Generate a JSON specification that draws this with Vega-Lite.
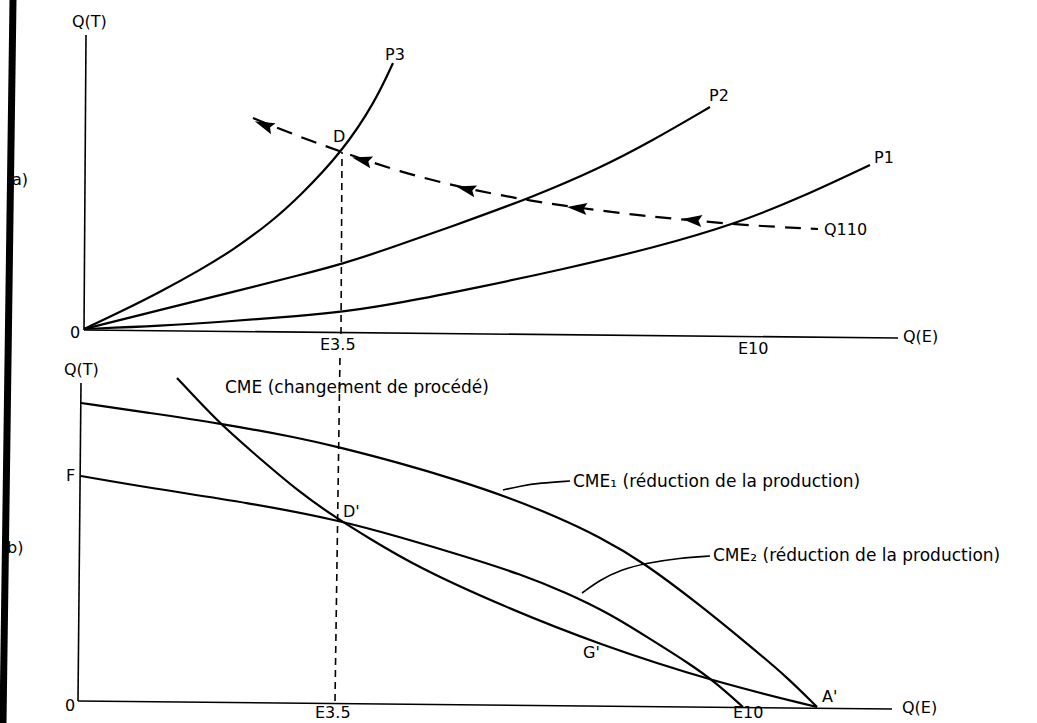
{
  "$schema": "https://vega.github.io/schema/vega-lite/v6.json",
  "width": 1037,
  "height": 723,
  "autosize": "none",
  "padding": 0,
  "background": "white",
  "config": {
    "view": {"stroke": null},
    "text": {"font": "DejaVu Sans", "fontSize": 16, "color": "black", "align": "left", "baseline": "middle"},
    "line": {"color": "black"}
  },
  "datasets": {
    "top_axes": [
      {"series": "yaxis", "x": 4, "y": 0}, {"series": "yaxis", "x": 6, "y": 295},
      {"series": "xaxis", "x": 4, "y": 0}, {"series": "xaxis", "x": 818, "y": -8}
    ],
    "top_curves": [
      {"series": "P3", "x": 4, "y": 1}, {"series": "P3", "x": 40, "y": 18}, {"series": "P3", "x": 80, "y": 38},
      {"series": "P3", "x": 120, "y": 60}, {"series": "P3", "x": 153, "y": 80}, {"series": "P3", "x": 190, "y": 107},
      {"series": "P3", "x": 220, "y": 134}, {"series": "P3", "x": 262, "y": 178}, {"series": "P3", "x": 295, "y": 228},
      {"series": "P3", "x": 313, "y": 267},
      {"series": "P2", "x": 4, "y": 1}, {"series": "P2", "x": 80, "y": 20}, {"series": "P2", "x": 153, "y": 38},
      {"series": "P2", "x": 220, "y": 55}, {"series": "P2", "x": 262, "y": 66}, {"series": "P2", "x": 308, "y": 81},
      {"series": "P2", "x": 370, "y": 103}, {"series": "P2", "x": 453, "y": 133}, {"series": "P2", "x": 520, "y": 162},
      {"series": "P2", "x": 570, "y": 188}, {"series": "P2", "x": 630, "y": 223},
      {"series": "P1", "x": 4, "y": 1}, {"series": "P1", "x": 80, "y": 4}, {"series": "P1", "x": 153, "y": 9},
      {"series": "P1", "x": 220, "y": 14}, {"series": "P1", "x": 262, "y": 18}, {"series": "P1", "x": 320, "y": 27},
      {"series": "P1", "x": 400, "y": 43}, {"series": "P1", "x": 480, "y": 60}, {"series": "P1", "x": 577, "y": 83},
      {"series": "P1", "x": 655, "y": 106}, {"series": "P1", "x": 720, "y": 132}, {"series": "P1", "x": 790, "y": 165}
    ],
    "q110": [
      {"x": 173, "y": 212}, {"x": 220, "y": 193}, {"x": 262, "y": 178}, {"x": 320, "y": 158},
      {"x": 383, "y": 142}, {"x": 440, "y": 131}, {"x": 492, "y": 123}, {"x": 563, "y": 114},
      {"x": 610, "y": 110}, {"x": 660, "y": 105}, {"x": 738, "y": 101}
    ],
    "arrows": [
      {"arrow": "a1", "x": 184, "y": 205},
      {"arrow": "a2", "x": 282, "y": 170},
      {"arrow": "a3", "x": 386, "y": 141},
      {"arrow": "a4", "x": 497, "y": 122},
      {"arrow": "a5", "x": 612, "y": 110}
    ],
    "top_labels": [
      {"label": "Q(T)", "x": -8, "y": 308},
      {"label": "a)", "x": -68, "y": 150},
      {"label": "0", "x": -10, "y": -3},
      {"label": "D", "x": 253, "y": 193},
      {"label": "P3", "x": 305, "y": 275},
      {"label": "P2", "x": 629, "y": 234},
      {"label": "P1", "x": 794, "y": 172},
      {"label": "Q110", "x": 744, "y": 100},
      {"label": "E3.5", "x": 240, "y": -15},
      {"label": "E10", "x": 658, "y": -19},
      {"label": "Q(E)", "x": 823, "y": -7}
    ],
    "bottom_axes": [
      {"series": "yaxis", "x": -2, "y": 0}, {"series": "yaxis", "x": 1, "y": 318},
      {"series": "xaxis", "x": -2, "y": 0}, {"series": "xaxis", "x": 812, "y": -8}
    ],
    "bottom_curves": [
      {"series": "CME1", "x": 1, "y": 298}, {"series": "CME1", "x": 70, "y": 288}, {"series": "CME1", "x": 138, "y": 278},
      {"series": "CME1", "x": 220, "y": 263}, {"series": "CME1", "x": 258, "y": 254}, {"series": "CME1", "x": 320, "y": 238},
      {"series": "CME1", "x": 377, "y": 221}, {"series": "CME1", "x": 430, "y": 203}, {"series": "CME1", "x": 475, "y": 185},
      {"series": "CME1", "x": 520, "y": 164}, {"series": "CME1", "x": 563, "y": 139}, {"series": "CME1", "x": 620, "y": 96},
      {"series": "CME1", "x": 670, "y": 55}, {"series": "CME1", "x": 707, "y": 24}, {"series": "CME1", "x": 737, "y": -6},
      {"series": "CME", "x": 97, "y": 323}, {"series": "CME", "x": 138, "y": 279}, {"series": "CME", "x": 170, "y": 251},
      {"series": "CME", "x": 220, "y": 208}, {"series": "CME", "x": 258, "y": 182}, {"series": "CME", "x": 287, "y": 164},
      {"series": "CME", "x": 337, "y": 134}, {"series": "CME", "x": 420, "y": 96}, {"series": "CME", "x": 520, "y": 56},
      {"series": "CME", "x": 635, "y": 19}, {"series": "CME", "x": 737, "y": -6},
      {"series": "CME2", "x": 1, "y": 225}, {"series": "CME2", "x": 70, "y": 213}, {"series": "CME2", "x": 170, "y": 198},
      {"series": "CME2", "x": 258, "y": 181}, {"series": "CME2", "x": 320, "y": 164}, {"series": "CME2", "x": 387, "y": 144},
      {"series": "CME2", "x": 440, "y": 127}, {"series": "CME2", "x": 487, "y": 108}, {"series": "CME2", "x": 530, "y": 87},
      {"series": "CME2", "x": 567, "y": 64}, {"series": "CME2", "x": 610, "y": 37}, {"series": "CME2", "x": 635, "y": 19},
      {"series": "CME2", "x": 663, "y": -6}
    ],
    "leaders": [
      {"series": "L1", "x": 423, "y": 211}, {"series": "L1", "x": 440, "y": 215}, {"series": "L1", "x": 460, "y": 218}, {"series": "L1", "x": 490, "y": 220},
      {"series": "L2", "x": 502, "y": 108}, {"series": "L2", "x": 520, "y": 121}, {"series": "L2", "x": 540, "y": 131},
      {"series": "L2", "x": 567, "y": 138}, {"series": "L2", "x": 600, "y": 143}, {"series": "L2", "x": 630, "y": 145}
    ],
    "guide": [
      {"series": "s1", "x": 262, "y": 549}, {"series": "s1", "x": 261, "y": 367},
      {"series": "s2", "x": 260, "y": 346}, {"series": "s2", "x": 255, "y": 0}
    ],
    "edge": [
      {"x": -77, "y": -22}, {"x": -67, "y": 701}
    ],
    "bottom_labels": [
      {"label": "Q(T)", "x": -16, "y": 331},
      {"label": "F", "x": -14, "y": 225},
      {"label": "b)", "x": -73, "y": 153},
      {"label": "0", "x": -15, "y": -5},
      {"label": "D'", "x": 263, "y": 189},
      {"label": "G'", "x": 503, "y": 48},
      {"label": "A'", "x": 742, "y": 4},
      {"label": "E3.5", "x": 235, "y": -12},
      {"label": "E10", "x": 653, "y": -12},
      {"label": "Q(E)", "x": 822, "y": -7}
    ],
    "bottom_long_labels": [
      {"label": "CME (changement de procédé)", "x": 145, "y": 313},
      {"label": "CME₁ (réduction de la production)", "x": 493, "y": 219},
      {"label": "CME₂ (réduction de la production)", "x": 633, "y": 145}
    ]
  },
  "layer": [
    {
      "encoding": {
        "x": {"field": "x", "type": "quantitative", "scale": {"domain": [-80, 957], "nice": false, "zero": false}, "axis": null},
        "y": {"field": "y", "type": "quantitative", "scale": {"domain": [-393, 330], "nice": false, "zero": false}, "axis": null}
      },
      "layer": [
        {"data": {"name": "top_axes"}, "mark": {"type": "line", "strokeWidth": 1.6}, "encoding": {"detail": {"field": "series"}}},
        {"data": {"name": "top_curves"}, "mark": {"type": "line", "strokeWidth": 2.2, "interpolate": "basis"}, "encoding": {"detail": {"field": "series"}}},
        {"data": {"name": "q110"}, "mark": {"type": "line", "strokeWidth": 2.2, "interpolate": "basis", "strokeDash": [16, 10]}, "encoding": {}},
        {"data": {"name": "arrows"}, "transform": [{"filter": "datum.arrow == 'a1'"}], "mark": {"type": "point", "shape": "M-1,0L1,-0.6L0.65,0L1,0.6Z", "filled": true, "size": 400, "color": "black", "opacity": 1, "strokeWidth": 0, "angle": 22}, "encoding": {}},
        {"data": {"name": "arrows"}, "transform": [{"filter": "datum.arrow == 'a2' || datum.arrow == 'a3'"}], "mark": {"type": "point", "shape": "M-1,0L1,-0.6L0.65,0L1,0.6Z", "filled": true, "size": 400, "color": "black", "opacity": 1, "strokeWidth": 0, "angle": 14}, "encoding": {}},
        {"data": {"name": "arrows"}, "transform": [{"filter": "datum.arrow == 'a4' || datum.arrow == 'a5'"}], "mark": {"type": "point", "shape": "M-1,0L1,-0.6L0.65,0L1,0.6Z", "filled": true, "size": 400, "color": "black", "opacity": 1, "strokeWidth": 0, "angle": 6}, "encoding": {}},
        {"data": {"name": "top_labels"}, "mark": {"type": "text"}, "encoding": {"text": {"field": "label"}}}
      ]
    },
    {
      "encoding": {
        "x": {"field": "x", "type": "quantitative", "scale": {"domain": [-80, 957], "nice": false, "zero": false}, "axis": null},
        "y": {"field": "y", "type": "quantitative", "scale": {"domain": [-22, 701], "nice": false, "zero": false}, "axis": null}
      },
      "layer": [
        {"data": {"name": "edge"}, "mark": {"type": "line", "strokeWidth": 7}, "encoding": {}},
        {"data": {"name": "bottom_axes"}, "mark": {"type": "line", "strokeWidth": 1.6}, "encoding": {"detail": {"field": "series"}}},
        {"data": {"name": "guide"}, "mark": {"type": "line", "strokeWidth": 1.6, "strokeDash": [7, 5]}, "encoding": {"detail": {"field": "series"}}},
        {"data": {"name": "bottom_curves"}, "mark": {"type": "line", "strokeWidth": 2.2, "interpolate": "basis"}, "encoding": {"detail": {"field": "series"}}},
        {"data": {"name": "leaders"}, "mark": {"type": "line", "strokeWidth": 1.6, "interpolate": "basis"}, "encoding": {"detail": {"field": "series"}}},
        {"data": {"name": "bottom_labels"}, "mark": {"type": "text"}, "encoding": {"text": {"field": "label"}}},
        {"data": {"name": "bottom_long_labels"}, "mark": {"type": "text", "fontSize": 17}, "encoding": {"text": {"field": "label"}}}
      ]
    }
  ],
  "resolve": {"scale": {"y": "independent"}}
}
